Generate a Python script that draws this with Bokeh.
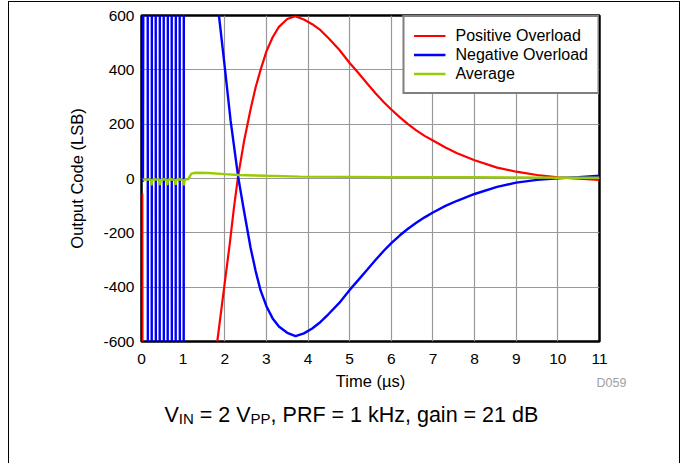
from bokeh.plotting import figure
from bokeh.layouts import column
from bokeh.models import Legend, LegendItem, Label, Range1d, FixedTicker
from bokeh.embed import file_html
from bokeh.resources import INLINE

# ---------------- data ----------------
x_ticks = [0, 1, 2, 3, 4, 5, 6, 7, 8, 9, 10, 11]
y_ticks = [-600, -400, -200, 0, 200, 400, 600]

pos_t = [0.02, 0.03, 1.5, 1.75, 1.82, 2.0, 2.12, 2.22, 2.32, 2.46, 2.62, 2.74, 2.86,
         3.0, 3.15, 3.3, 3.5, 3.69, 3.9, 4.1, 4.3, 4.5, 4.75, 5.0, 5.2, 5.42, 5.62,
         5.82, 6.0, 6.2, 6.4, 6.6, 6.8, 7.0, 7.3, 7.58, 8.0, 8.54, 9.0, 9.5, 10.0,
         10.5, 11.0]
pos_v = [-55, -2000, -2000, -700, -600, -383, -240, -108, 8, 135, 255, 335, 400,
         468, 520, 558, 587, 597, 585, 568, 546, 515, 474, 425, 390, 350, 314,
         281, 254, 226, 200, 177, 157, 140, 114, 93, 67, 40, 25, 13, 4,
         -1, -5]

neg_t = [0.035, 0.06, 0.146, 0.156, 0.242, 0.252, 0.338, 0.348, 0.434, 0.444,
         0.530, 0.540, 0.626, 0.636, 0.722, 0.732, 0.818, 0.828, 0.914, 0.924,
         1.010, 1.020, 1.5, 1.8, 1.86, 2.0, 2.14, 2.32, 2.46, 2.62, 2.74, 2.86,
         3.0, 3.15, 3.3, 3.5, 3.7, 3.9, 4.1, 4.3, 4.5, 4.75, 5.0, 5.2, 5.42, 5.62,
         5.82, 6.0, 6.2, 6.4, 6.6, 6.8, 7.0, 7.3, 7.58, 8.0, 8.54, 9.0, 9.5, 10.0,
         10.5, 11.0]
neg_v = [-12, 2000, 2000, -2000, -2000, 2000, 2000, -2000, -2000, 2000,
         2000, -2000, -2000, 2000, 2000, -2000, -2000, 2000, 2000, -2000,
         -2000, 2000, 2000, 700, 600, 410, 213, 8, -118, -255, -340, -412,
         -470, -515, -545, -568, -580, -570, -552, -528, -498, -458, -410, -375, -336, -300,
         -266, -238, -210, -185, -163, -143, -125, -101, -82, -57, -31, -15, -5, 1,
         5, 10]

avg_t = [0.03, 0.08, 0.12, 0.16, 0.2, 0.225, 0.24, 0.255, 0.3, 0.36, 0.42, 0.43,
         0.445, 0.46, 0.52, 0.58, 0.605, 0.62, 0.635, 0.7, 0.76, 0.8, 0.82,
         0.835, 0.9, 0.96, 1.0, 1.02, 1.035, 1.08, 1.12, 1.16, 1.2, 1.3, 1.6,
         2.0, 2.32, 3.0, 3.8, 5.0, 6.0, 7.0, 8.0, 9.0, 10.0, 11.0]
avg_v = [-4, -3, -5, -3, -4, -6, -25, -5, -3, -4, -3, -7,
         -24, -5, -3, -4, -7, -24, -4, -3, -4, -7, -23,
         -4, -3, -4, -7, -25, -4, -3, -3, 8, 18, 21, 20,
         16, 13, 10, 7, 6, 5, 5, 5, 4, 3, 3]

series_names = ["Positive Overload", "Negative Overload", "Average"]
series_colors = ["#FF0000", "#0000FF", "#99CC00"]
x_title = "Time (µs)"
y_title = "Output Code (LSB)"
note_text = "D059"

# ---------------- layout ----------------
FONT = "Liberation Sans"
W = 672
H1, H2 = 372, 90                      # main chart / caption strip heights
FL, FT, FW, FH = 132, 13, 458, 326    # frame position inside the main canvas
X0, X1, Y0, Y1 = 0, 11, -600, 600
PAGE_X0, STRIP_Y0 = 9, 374            # page position of canvas left / caption strip top
FRAME_L_PAGE = PAGE_X0 + FL

p = figure(width=W, height=H1, output_backend="svg", toolbar_location=None,
           x_range=Range1d(X0, X1), y_range=Range1d(Y0, Y1),
           min_border_left=FL, min_border_top=FT,
           min_border_right=W - FL - FW, min_border_bottom=H1 - FT - FH,
           background_fill_color="white", border_fill_color="white",
           styles={"border-left": "1px solid black", "border-right": "1px solid black",
                   "border-top": "1px solid black", "margin-left": "8px",
                   "margin-top": "1px"})

p.outline_line_color = "black"
p.outline_line_width = 2.5

p.xaxis.ticker = FixedTicker(ticks=x_ticks)
p.yaxis.ticker = FixedTicker(ticks=y_ticks)
p.xgrid.ticker = FixedTicker(ticks=x_ticks)
p.ygrid.ticker = FixedTicker(ticks=y_ticks)
p.yaxis.major_label_overrides = {v: str(v) for v in y_ticks}
for g in (p.xgrid, p.ygrid):
    g.grid_line_color = "#999999"
    g.grid_line_width = 1.2

for ax in (p.xaxis, p.yaxis):
    ax.axis_line_color = None
    ax.major_tick_line_color = None
    ax.minor_tick_line_color = None
    ax.major_tick_out = 0
    ax.major_tick_in = 0
    ax.minor_tick_out = 0
    ax.major_label_text_font = FONT
    ax.major_label_text_font_size = "15.5px"
    ax.major_label_text_color = "black"
    ax.axis_label_text_font = FONT
    ax.axis_label_text_font_size = "16.5px"
    ax.axis_label_text_font_style = "normal"
    ax.axis_label_text_color = "black"

p.yaxis.axis_label = y_title
p.xaxis.major_label_standoff = 12
p.yaxis.major_label_standoff = 7
p.yaxis.axis_label_standoff = 14

r_pos = p.line(pos_t, pos_v, line_color=series_colors[0], line_width=2.2)
r_neg = p.line(neg_t, neg_v, line_color=series_colors[1], line_width=2.4)
r_avg = p.line(avg_t, avg_v, line_color=series_colors[2], line_width=2.4)

legend = Legend(items=[LegendItem(label=series_names[0], renderers=[r_pos]),
                       LegendItem(label=series_names[1], renderers=[r_neg]),
                       LegendItem(label=series_names[2], renderers=[r_avg])],
                location="top_right", margin=0, padding=9, spacing=0,
                glyph_width=32, glyph_height=19, label_height=19, label_standoff=10,
                border_line_color="black", border_line_width=2,
                background_fill_color="white", background_fill_alpha=1,
                label_text_font=FONT, label_text_font_size="16px",
                label_text_color="black")
p.add_layout(legend, "center")

# ---------------- caption strip (x-axis title, note, subtitle) ----------------
c = figure(width=W, height=H2, output_backend="svg", toolbar_location=None,
           x_axis_type=None, y_axis_type=None, min_border=0,
           background_fill_color="white", border_fill_color="white",
           styles={"border-left": "1px solid black", "border-right": "1px solid black",
                   "margin-left": "8px"})
if "frame_align" in c.properties():
    # caption canvas is used in page pixels, so do not align it with the chart frame
    c.frame_align = False
    c.x_range = Range1d(PAGE_X0, PAGE_X0 + W)
else:
    c.x_range = Range1d(FRAME_L_PAGE, FRAME_L_PAGE + FW)
c.y_range = Range1d(STRIP_Y0 + H2, STRIP_Y0)   # y measured downward, in page pixels
c.outline_line_color = None
c.xgrid.visible = False
c.ygrid.visible = False


def add_text(page_x, page_y, txt, size, color="black", align="left", baseline="alphabetic"):
    c.add_layout(Label(x=page_x, y=page_y, text=txt,
                       text_font=FONT, text_font_size=size, text_color=color,
                       text_align=align, text_baseline=baseline))


add_text(370, 381, x_title, "16.5px", align="center", baseline="middle")
add_text(596, 383, note_text, "12.5px", color="#A0A0A0", baseline="middle")

# subtitle with subscripts: V_IN = 2 V_PP, PRF = 1 kHz, gain = 21 dB
BIG, SUB = "21.5px", "15px"
BASE_Y, SUB_Y = 415, 419
add_text(164.0, BASE_Y, "V", BIG)
add_text(178.3, SUB_Y, "IN", SUB)
add_text(199.3, BASE_Y, "= 2 V", BIG)
add_text(250.1, SUB_Y, "PP", SUB)
add_text(270.1, BASE_Y, ", PRF = 1 kHz, gain = 21 dB", BIG)

layout = column(p, c, spacing=0)
open("out.html", "w").write(file_html(layout, INLINE))
